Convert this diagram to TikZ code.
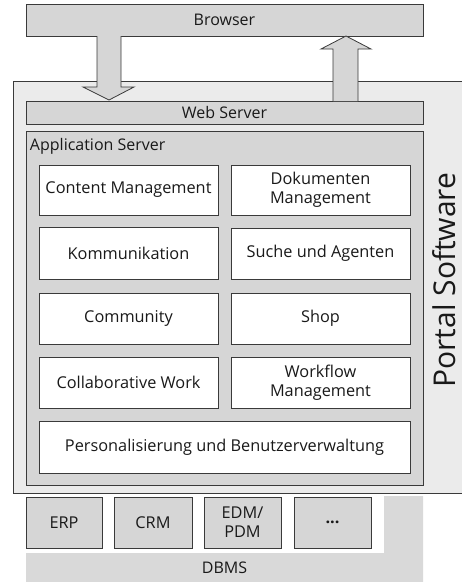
\documentclass[tikz,border=0pt]{standalone}
\usepackage{fontspec}
\setmainfont{Open Sans}
\definecolor{lineC}{HTML}{3A3A3A}
\definecolor{boxG}{HTML}{D6D6D6}
\definecolor{portalG}{HTML}{EBEBEB}
\definecolor{dbG}{HTML}{D9D9D9}
\begin{document}
\begin{tikzpicture}[x=1pt,y=-1pt,
  every node/.style={inner sep=0pt, outer sep=0pt, text=black!90},
  graybox/.style={draw=lineC, line width=0.8pt, fill=boxG, font=\fontsize{16}{18}\selectfont},
  whitebox/.style={draw=lineC, line width=0.8pt, fill=white, minimum width=179pt, align=center, font=\fontsize{16.3}{19}\selectfont},
  botbox/.style={draw=lineC, line width=0.8pt, fill=boxG, minimum height=51pt, align=center, font=\fontsize{16.3}{19}\selectfont},
  blockarrow/.style={draw=lineC, line width=0.8pt, fill=boxG, line join=miter}
]
\useasboundingbox (0,0) rectangle (462,582);
% Portal Software outer area
\fill[portalG] (13,81) rectangle (470,493);
\draw[lineC, line width=0.8pt] (470,81) -- (13,81) -- (13,493) -- (470,493);
\node[rotate=90, font=\fontsize{30}{32}\selectfont] (portal) at (444,280) {Portal Software};
% DBMS area
\fill[dbG] (26,553) -- (384,553) -- (384,496) -- (423,496) -- (423,582) -- (26,582) -- cycle;
\node[font=\fontsize{16}{18}\selectfont] (dbms) at (224.5,568) {DBMS};
% Browser and web server
\node[graybox, minimum width=397pt, minimum height=32pt] (browser) at (224.5,20) {Browser};
\node[graybox, minimum width=397pt, minimum height=23pt] (web) at (224.5,112.5) {Web Server};
% Block arrows
\draw[blockarrow] (97,0 |- browser.south) -- (97,87) -- (83,87) -- (109,100) -- (134,87) -- (121,87) -- (121,0 |- browser.south);
\draw[blockarrow] (333,0 |- web.north) -- (333,49) -- (321,49) -- (346,0 |- browser.south) -- (371,49) -- (358,49) -- (358,0 |- web.north);
% Application server
\node[graybox, minimum width=397pt, minimum height=354pt] (app) at (224.5,308) {};
\node[anchor=base west, font=\fontsize{16}{18}\selectfont] (applabel) at (30,150) {Application Server};
% Inner boxes
\node[whitebox, minimum height=50pt] (cm) at (128.5,190) {Content Management};
\node[whitebox, minimum height=50pt] (dm) at (320.5,190) {Dokumenten\\Management};
\node[whitebox, minimum height=52pt] (ko) at (128.5,253) {Kommunikation};
\node[whitebox, minimum height=51pt] (su) at (320.5,253.5) {Suche und Agenten};
\node[whitebox, minimum height=51pt] (co) at (128.5,318.5) {Community};
\node[whitebox, minimum height=51pt] (sh) at (320.5,318.5) {Shop};
\node[whitebox, minimum height=51pt] (cw) at (128.5,382.5) {Collaborative Work};
\node[whitebox, minimum height=51pt] (wf) at (320.5,382.5) {Workflow\\Management};
\node[whitebox, minimum width=371pt, minimum height=52pt] (pb) at (224.5,447) {Personalisierung und Benutzerverwaltung};
% Bottom systems
\node[botbox, minimum width=76pt] (erp) at (64,522.5) {ERP};
\node[botbox, minimum width=78pt] (crm) at (153,522.5) {CRM};
\node[botbox, minimum width=77pt] (edm) at (242.5,522.5) {EDM/\\PDM};
\node[botbox, minimum width=77pt] (etc) at (332.5,522.5) {\textbf{...}};
\end{tikzpicture}
\end{document}
